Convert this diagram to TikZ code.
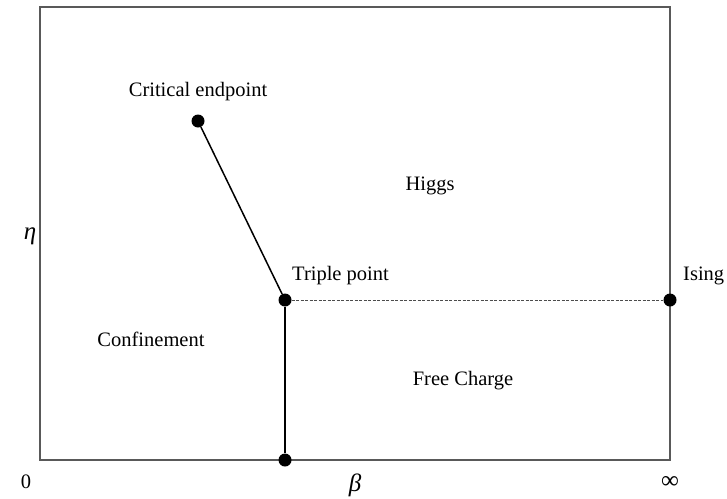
\documentclass[tikz,border=0pt]{standalone}
\usepackage{fontspec}
\setmainfont{Liberation Serif}
\begin{document}
\begin{tikzpicture}[x=1pt,y=-1pt,
  dot/.style={circle,fill=black,inner sep=0pt,minimum size=13pt},
  lbl/.style={inner sep=0pt,font=\fontsize{20.5}{24}\selectfont},
  big/.style={inner sep=0pt,font=\fontsize{25}{28}\selectfont},
  frame/.style={draw=black!65,line width=1.2pt}]
\useasboundingbox (0,0) rectangle (727,498);
\draw[frame] (40,7) rectangle (670,460);
\node[dot] (ce) at (198,121) {};
\node[dot] (tp) at (285,300) {};
\node[dot] (bt) at (285,460) {};
\node[dot] (is) at (670,300) {};
\draw[line width=1.5pt] (ce) -- (tp);
\draw[line width=1.5pt] (tp) -- (bt);
\draw[black!70,line width=1pt,dash pattern=on 3pt off 1.5pt] (tp) -- (is);
\node[lbl] (tce) at (198,92) {Critical endpoint};
\node[lbl] (thi) at (430,186) {Higgs};
\node[big] (teta) at (30,236) {\textit{η}};
\node[lbl,anchor=west] (ttp) at (292,276) {Triple point};
\node[lbl,anchor=west] (tis) at (683,276) {Ising};
\node[lbl] (tcf) at (151,339) {Confinement};
\node[lbl] (tfc) at (463,381) {Free Charge};
\node[lbl] (t0) at (26,482) {0};
\node[big] (tb) at (355,485) {\textit{β}};
\node[big] (tinf) at (670,482) {∞};
\end{tikzpicture}
\end{document}
